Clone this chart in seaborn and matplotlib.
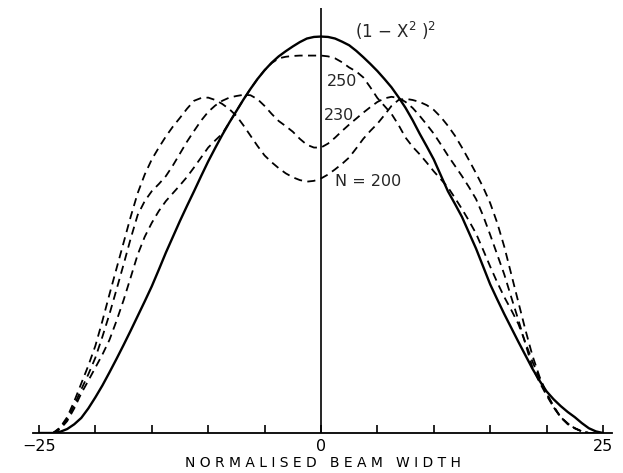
import numpy as np
import pandas as pd
import matplotlib
matplotlib.use("Agg")
import matplotlib.pyplot as plt
import seaborn as sns

# Datos (eje x: ancho normalizado de -25 a 25, paso 0.625)

u = np.arange(-25, 25.001, 0.625)

perfil_ideal = [0, 0, 0, 0.003, 0.01, 0.022, 0.038, 0.062, 0.09, 0.12, 0.153, 0.187, 0.222,
                0.258, 0.295, 0.332, 0.37, 0.412, 0.455, 0.495, 0.535, 0.573, 0.61, 0.648,
                0.685, 0.719, 0.752, 0.783, 0.812, 0.841, 0.868, 0.893, 0.915, 0.934, 0.95,
                0.963, 0.975, 0.986, 0.995, 0.999,
                1.0,
                0.999, 0.995, 0.987, 0.978, 0.964, 0.948, 0.931, 0.913, 0.893, 0.872, 0.847,
                0.82, 0.789, 0.755, 0.723, 0.69, 0.65, 0.61, 0.578, 0.545, 0.505, 0.465, 0.42,
                0.375, 0.337, 0.30, 0.265, 0.23, 0.196, 0.162, 0.132, 0.105, 0.085, 0.068,
                0.053, 0.04, 0.025, 0.012, 0.004, 0.0]

n_250 = [0, 0, 0, 0.01, 0.03, 0.062, 0.10, 0.132, 0.165, 0.198, 0.235, 0.283, 0.335,
         0.392, 0.45, 0.495, 0.53, 0.56, 0.585, 0.605, 0.625, 0.646, 0.67, 0.695,
         0.72, 0.738, 0.755, 0.783, 0.812, 0.841, 0.868, 0.893, 0.915, 0.933, 0.945,
         0.949, 0.951, 0.952, 0.952, 0.952,
         0.952,
         0.95, 0.945, 0.935, 0.922, 0.912, 0.897, 0.872, 0.845, 0.825, 0.805, 0.777,
         0.745, 0.722, 0.703, 0.682, 0.66, 0.64, 0.62, 0.593, 0.565, 0.535, 0.503, 0.462,
         0.42, 0.38, 0.343, 0.31, 0.275, 0.228, 0.18, 0.138, 0.10, 0.068, 0.04,
         0.022, 0.012, 0.004, 0, 0, 0]

n_230 = [0, 0, 0, 0.012, 0.035, 0.07, 0.11, 0.148, 0.19, 0.243, 0.30, 0.362, 0.425,
         0.49, 0.55, 0.585, 0.61, 0.628, 0.648, 0.675, 0.705, 0.735, 0.762, 0.788,
         0.81, 0.826, 0.838, 0.846, 0.85, 0.853, 0.852, 0.842, 0.825, 0.805, 0.787,
         0.774, 0.76, 0.742, 0.727, 0.72,
         0.72,
         0.73, 0.745, 0.762, 0.778, 0.793, 0.808, 0.822, 0.835, 0.844, 0.848, 0.845,
         0.835, 0.82, 0.80, 0.778, 0.755, 0.728, 0.70, 0.674, 0.648, 0.62, 0.59, 0.548,
         0.50, 0.45, 0.40, 0.342, 0.285, 0.225, 0.165, 0.128, 0.095, 0.065, 0.04,
         0.024, 0.012, 0.004, 0, 0, 0]

n_200 = [0, 0, 0, 0.014, 0.04, 0.08, 0.125, 0.17, 0.22, 0.283, 0.35, 0.415, 0.48,
         0.545, 0.605, 0.652, 0.69, 0.72, 0.748, 0.773, 0.795, 0.818, 0.838, 0.845,
         0.846, 0.84, 0.83, 0.817, 0.80, 0.776, 0.75, 0.724, 0.70, 0.683, 0.668,
         0.655, 0.645, 0.638, 0.634, 0.636,
         0.642,
         0.652, 0.665, 0.679, 0.695, 0.718, 0.742, 0.762, 0.78, 0.802, 0.825, 0.84,
         0.843, 0.84, 0.835, 0.827, 0.815, 0.797, 0.775, 0.75, 0.72, 0.688, 0.655, 0.62,
         0.58, 0.53, 0.47, 0.40, 0.33, 0.26, 0.195, 0.142, 0.10, 0.065, 0.04,
         0.024, 0.012, 0.004, 0, 0, 0]

ticks = [-25, -20, -15, -10, -5, 0, 5, 10, 15, 20, 25]
tick_labels = ["\u221225", "", "", "", "", "0", "", "", "", "", "25"]

# Tablas para seaborn

ideal = pd.DataFrame({"u": u, "v": perfil_ideal})
dashed = pd.concat([
    pd.DataFrame({"u": u, "v": n_250, "N": "250"}),
    pd.DataFrame({"u": u, "v": n_230, "N": "230"}),
    pd.DataFrame({"u": u, "v": n_200, "N": "200"}),
])

sns.set_theme(style="white")
plt.rcParams["font.family"] = ["DejaVu Sans"]

fig = plt.figure(figsize=(6.23, 4.73), dpi=100)
ax = fig.add_axes([33 / 623, 40 / 473, 579 / 623, 424.6 / 473])

sns.lineplot(data=ideal, x="u", y="v", color="black", linewidth=1.7, ax=ax, errorbar=None)
sns.lineplot(data=dashed, x="u", y="v", style="N", style_order=["250", "230", "200"],
             dashes={"250": (4.5, 3), "230": (4.5, 3), "200": (4.5, 3)},
             color="black", linewidth=1.3, ax=ax, errorbar=None, legend=False)

ax.axvline(0, color="black", linewidth=1.2)

ax.set_xlim(-25.53, 25.8)
ax.set_ylim(0, 1.071)
ax.set_xticks(ticks)
ax.set_xticklabels(tick_labels)
ax.set_yticks([])
ax.set_ylabel("")
ax.tick_params(axis="x", direction="in", length=6, width=1.2, pad=4, labelsize=11.5,
               bottom=True, colors="black")
sns.despine(ax=ax, left=True)
ax.spines["bottom"].set_color("black")
ax.spines["bottom"].set_linewidth(1.3)

ax.set_xlabel("N O R M A L I S E D   B E A M   W I D T H", fontsize=10, labelpad=2, color="black")

# Etiquetas de las curvas

ax.text(3.0, 1.013, "(1 \u2212 X$^{2}$ )$^{2}$", fontsize=12, ha="left", va="center")
ax.text(0.5, 0.886, "250", fontsize=11.5, ha="left", va="center")
ax.text(0.25, 0.80, "230", fontsize=11.5, ha="left", va="center")
ax.text(1.2, 0.635, "N = 200", fontsize=11.5, ha="left", va="center")

fig.savefig("out.png", dpi=100)
